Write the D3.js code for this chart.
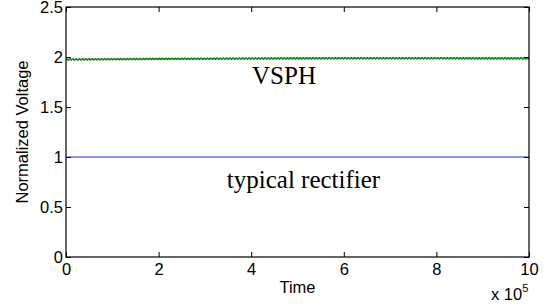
<!DOCTYPE html>
<html>
<head>
<meta charset="utf-8">
<script src="https://cdn.jsdelivr.net/npm/d3@7"></script>
<style>
  body { margin: 0; background: #fff; }
  svg { display: block; }
  .tick text { font-family: "Liberation Sans", Arial, sans-serif; font-size: 16.5px; fill: #000; }
</style>
</head>
<body>
<div id="chart"></div>
<script>
// axis setup
const xTicks = [0, 2, 4, 6, 8, 10];
const yTicks = [0, 0.5, 1, 1.5, 2, 2.5];

// series (time in units of 1e5)
const vsphTime = [0, 1, 2, 3, 4, 5, 6, 7, 8, 9, 10];
const vsphValue = [1.975, 1.978, 1.981, 1.983, 1.985, 1.986, 1.987, 1.987, 1.987, 1.986, 1.986];
const rectTime = [0, 10];
const rectValue = [1, 1];

const width = 554, height = 308;
const margin = { top: 7, right: 25, bottom: 51, left: 66 };

const svg = d3.select("#chart").append("svg")
  .attr("width", width)
  .attr("height", height);

const x = d3.scaleLinear().domain([0, 10]).range([margin.left, width - margin.right]);
const y = d3.scaleLinear().domain([0, 2.5]).range([height - margin.bottom, margin.top]);

// lines
const line = d3.line().x(d => x(d[0])).y(d => y(d[1]));

const vsph = d3.zip(vsphTime, vsphValue);
svg.append("path").datum(vsph)
  .attr("d", line)
  .attr("fill", "none")
  .attr("stroke", "#1a9a1a")
  .attr("stroke-width", 1.6);
// ripple texture
svg.append("path").datum(vsph)
  .attr("d", line)
  .attr("fill", "none")
  .attr("stroke", "#0a5a0a")
  .attr("stroke-width", 1)
  .attr("stroke-dasharray", "1.3 1.9")
  .attr("transform", "translate(0,-0.8)");
svg.append("path").datum(vsph)
  .attr("d", line)
  .attr("fill", "none")
  .attr("stroke", "#0a5a0a")
  .attr("stroke-width", 1)
  .attr("stroke-dasharray", "1.3 1.9")
  .attr("stroke-dashoffset", 1.6)
  .attr("transform", "translate(0,0.8)");

svg.append("path").datum(d3.zip(rectTime, rectValue))
  .attr("d", line)
  .attr("fill", "none")
  .attr("stroke", "#6b6bf2")
  .attr("stroke-width", 1.3);

// axes (MATLAB style, ticks inward)
const x0 = x.range(), y0 = y.range();

svg.append("g")
  .attr("transform", `translate(0,${y0[0]})`)
  .call(d3.axisBottom(x).tickValues(xTicks).tickSize(-5).tickPadding(6).tickFormat(d3.format("d")))
  .call(g => g.select(".domain").remove())
  .call(g => g.selectAll(".tick line").attr("stroke", "#000"));

svg.append("g")
  .attr("transform", `translate(${x0[0]},0)`)
  .call(d3.axisLeft(y).tickValues(yTicks).tickSize(-5).tickPadding(3).tickFormat(d => d3.format("")(d)))
  .call(g => g.select(".domain").remove())
  .call(g => g.selectAll(".tick line").attr("stroke", "#000"));

svg.append("g")
  .attr("transform", `translate(0,${y0[1]})`)
  .call(d3.axisTop(x).tickValues(xTicks).tickSize(-5).tickFormat(""))
  .call(g => g.select(".domain").remove())
  .call(g => g.selectAll(".tick line").attr("stroke", "#000"));

svg.append("g")
  .attr("transform", `translate(${x0[1]},0)`)
  .call(d3.axisRight(y).tickValues(yTicks).tickSize(-5).tickFormat(""))
  .call(g => g.select(".domain").remove())
  .call(g => g.selectAll(".tick line").attr("stroke", "#000"));

svg.append("rect")
  .attr("x", x0[0]).attr("y", y0[1])
  .attr("width", x0[1] - x0[0]).attr("height", y0[0] - y0[1])
  .attr("fill", "none").attr("stroke", "#000").attr("stroke-width", 1.2);

// labels
const sans = "'Liberation Sans', Arial, sans-serif";
const serif = "'Liberation Serif', 'Times New Roman', serif";

svg.append("text")
  .attr("x", (x0[0] + x0[1]) / 2).attr("y", 293)
  .attr("text-anchor", "middle")
  .attr("font-family", sans).attr("font-size", 16.5)
  .text("Time");

svg.append("text")
  .attr("transform", `translate(28,${(y0[0] + y0[1]) / 2}) rotate(-90)`)
  .attr("text-anchor", "middle")
  .attr("font-family", sans).attr("font-size", 16.5)
  .text("Normalized Voltage");

const exp = svg.append("text")
  .attr("x", 491).attr("y", 300)
  .attr("font-family", sans).attr("font-size", 16.5);
exp.append("tspan").text("x 10");
exp.append("tspan").attr("dy", -8).attr("font-size", 11).text("5");

svg.append("text")
  .attr("x", 284).attr("y", 84)
  .attr("text-anchor", "middle")
  .attr("font-family", serif).attr("font-size", 25)
  .text("VSPH");

svg.append("text")
  .attr("x", 303.5).attr("y", 188)
  .attr("text-anchor", "middle")
  .attr("font-family", serif).attr("font-size", 25)
  .text("typical rectifier");
</script>
</body>
</html>
